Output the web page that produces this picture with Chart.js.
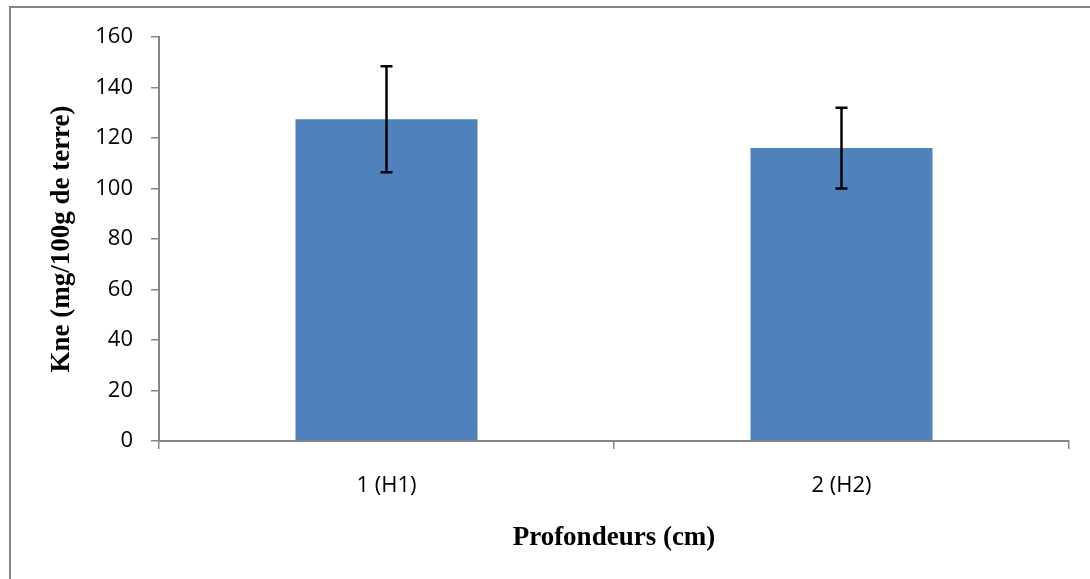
<!DOCTYPE html>
<html>
<head>
<meta charset="utf-8">
<script src="https://cdn.jsdelivr.net/npm/chart.js@4.4.1/dist/chart.umd.min.js"></script>
<style>
  html, body { margin: 0; padding: 0; background: #fff; }
  #wrap { width: 1090px; height: 579px; }
</style>
</head>
<body>
<div id="wrap"><canvas id="chart"></canvas></div>
<script>
// data
var categories = ['1 (H1)', '2 (H2)'];
var kneValues = [127.4, 116];
var kneErrors = [21, 16];
var yTicks = [0, 20, 40, 60, 80, 100, 120, 140, 160];

var axisGrey = '#868686';

// white page + grey frame round the chart
var framePlugin = {
  id: 'frame',
  beforeDraw: function(chart) {
    var ctx = chart.ctx;
    ctx.save();
    ctx.fillStyle = '#fff';
    ctx.fillRect(0, 0, chart.width, chart.height);
    ctx.strokeStyle = axisGrey;
    ctx.lineWidth = 2;
    ctx.strokeRect(10, 7, chart.width + 50, chart.height + 50);
    ctx.restore();
  }
};

// error bars, drawn through the y scale
var errorBarPlugin = {
  id: 'errorBars',
  afterDatasetsDraw: function(chart) {
    var ctx = chart.ctx;
    var yScale = chart.scales.y;
    var meta = chart.getDatasetMeta(0);
    ctx.save();
    ctx.strokeStyle = '#000';
    ctx.lineWidth = 2.5;
    meta.data.forEach(function(bar, i) {
      var v = kneValues[i], e = kneErrors[i];
      var top = yScale.getPixelForValue(v + e);
      var bot = yScale.getPixelForValue(v - e);
      var x = bar.x;
      ctx.beginPath();
      ctx.moveTo(x, top); ctx.lineTo(x, bot);
      ctx.moveTo(x - 6, top); ctx.lineTo(x + 6, top);
      ctx.moveTo(x - 6, bot); ctx.lineTo(x + 6, bot);
      ctx.stroke();
    });
    ctx.restore();
  }
};

new Chart(document.getElementById('chart'), {
  type: 'bar',
  data: {
    labels: categories,
    datasets: [{
      label: 'Kne',
      data: kneValues,
      backgroundColor: '#4F81BD',
      borderWidth: 0,
      categoryPercentage: 1,
      barPercentage: 0.4
    }]
  },
  options: {
    responsive: true,
    maintainAspectRatio: false,
    animation: false,
    devicePixelRatio: 1,
    layout: { padding: { left: 0, right: 21, top: 37, bottom: 0 } },
    plugins: {
      legend: { display: false },
      tooltip: { enabled: false }
    },
    scales: {
      x: {
        afterFit: function(scale) { scale.height = 138; },
        grid: {
          offset: true,
          drawOnChartArea: false,
          drawTicks: true,
          tickLength: 8,
          color: axisGrey,
          lineWidth: 1.5
        },
        border: { display: true, color: axisGrey, width: 2 },
        ticks: {
          color: '#000',
          padding: 24,
          font: { family: 'Open Sans', size: 22 }
        },
        title: {
          display: true,
          text: 'Profondeurs (cm)',
          color: '#000',
          padding: { top: 0, bottom: 25 },
          font: { family: 'Liberation Serif', size: 27, weight: 'bold' }
        }
      },
      y: {
        min: 0,
        max: 160,
        afterFit: function(scale) { scale.width = 159; },
        afterBuildTicks: function(scale) {
          scale.ticks = yTicks.map(function(v) { return { value: v }; });
        },
        grid: {
          drawOnChartArea: false,
          drawTicks: true,
          tickLength: 8,
          color: axisGrey,
          lineWidth: 1.5
        },
        border: { display: true, color: axisGrey, width: 2 },
        ticks: {
          color: '#000',
          padding: 18,
          font: { family: 'Open Sans', size: 22 }
        },
        title: {
          display: true,
          text: 'Kne (mg/100g de terre)',
          color: '#000',
          padding: { top: 46, bottom: 0 },
          font: { family: 'Liberation Serif', size: 27, weight: 'bold' }
        }
      }
    }
  },
  plugins: [framePlugin, errorBarPlugin]
});
</script>
</body>
</html>
